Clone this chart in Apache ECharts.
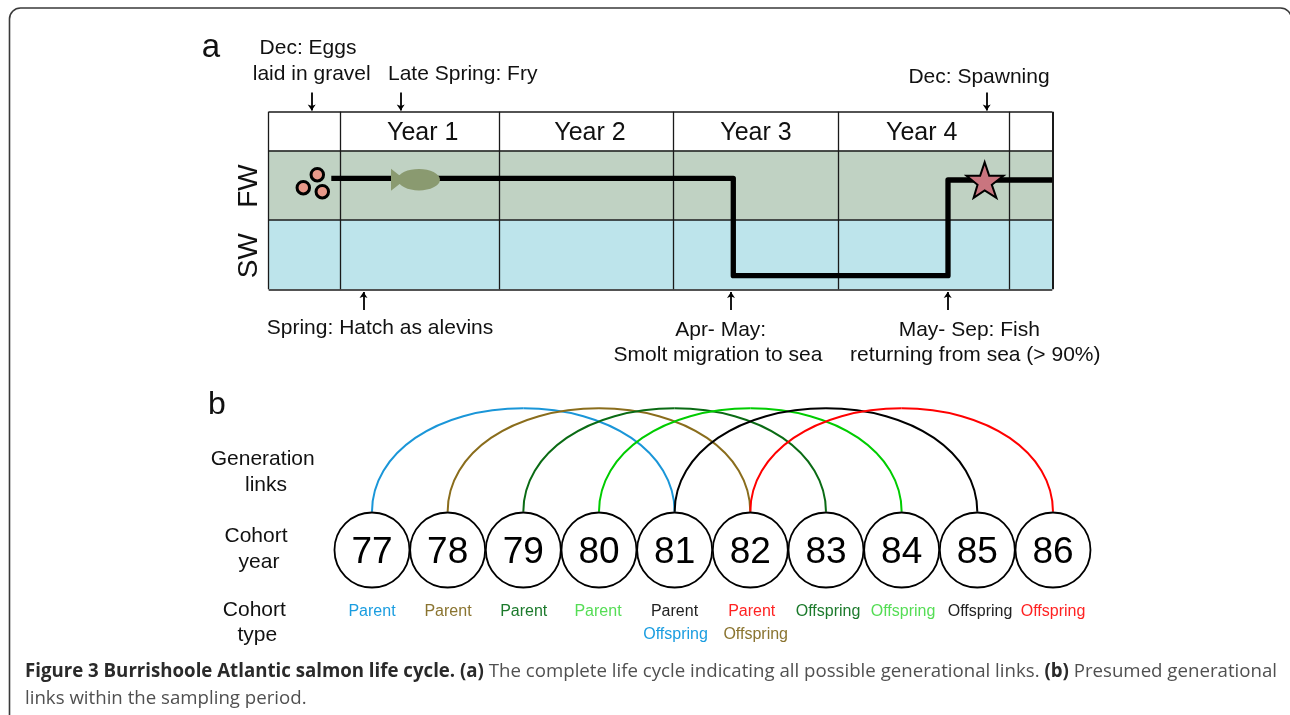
<!DOCTYPE html>
<html><head><meta charset="utf-8">
<style>html,body{margin:0;padding:0;background:#fff}#c{width:1290px;height:715px}</style>
<script src="https://cdn.jsdelivr.net/npm/echarts@6/dist/echarts.min.js"></script>
</head><body><div id="c"></div>
<script>
// ---- data ----
const yearEdges = [268.7, 340.7, 499.3, 673.3, 838.7, 1009.3, 1052.3];
const yearLabels = ['Year 1', 'Year 2', 'Year 3', 'Year 4'];
const rowEdges = [111.7, 150.4, 219.7, 289.3];
const rowLabels = ['FW', 'SW'];
const lifePath = [[331.3, 178.3], [733.3, 178.3], [733.3, 275.7], [948, 275.7], [948, 180], [1052.3, 180]];
const eggs = [[303.3, 187.7], [317.3, 174.7], [322.3, 191.7]];
const fry = [[415.5, 179.7]];
const spawner = [[985, 180]];
const downArrowsX = [311.7, 400.7, 986.7];
const upArrowsX = [363.5, 731, 947.7];
const cohortYears = [77, 78, 79, 80, 81, 82, 83, 84, 85, 86];
const generationLinks = [[77, 81], [78, 82], [79, 83], [80, 84], [81, 85], [82, 86]];
const linkColors = ['#1a96d8', '#8a6d1c', '#0a6b14', '#00cc00', '#000000', '#ff0000'];
const cohortTypeRow1 = ['Parent', 'Parent', 'Parent', 'Parent', 'Parent', 'Parent', 'Offspring', 'Offspring', 'Offspring', 'Offspring'];
const cohortTypeRow2 = ['', '', '', '', 'Offspring', 'Offspring', '', '', '', ''];

// ---- layout / styles ----
const FONT = '"Liberation Sans", Arial, sans-serif';
const CAP = '"Open Sans", "Noto Sans", sans-serif';
const ROW1C = ['#1a9de0', '#8a7430', '#1c7a2c', '#55dd55', '#222222', '#ff2222', '#1c7a2c', '#55dd55', '#222222', '#ff2222'];
const ROW2C = ['', '', '', '', '#1a9de0', '#8a7430', '', '', '', ''];
const ROW1X = [372, 448, 523.7, 598, 674.5, 751.7, 828, 903, 980, 1053];
const ROW2X = [0, 0, 0, 0, 675.5, 755.7, 0, 0, 0, 0];
const YEAR_X = [422.7, 590, 756, 921.7];
const FW_SW_Y = [186, 255.7];
const BAND_COL = ['#c0d2c3', '#bde4eb'];
const GRID_COL = '#1a1a1a';
const ARC_BASE = 511.7, ARC_TOP = 408.3, ARROW_TOP = [92.5, 110.5], ARROW_BOT = [310, 292];
const STAR = 'path://M1004 335L1018 377L1062 377L1026 405L1040 445L1004 422L970 445L982 405L948 377L990 377Z';
const FISH = 'path://M0 0L14 11L0 22ZM7 11C7 4 17 0.3 28 0.3C39 0.3 49 5 49 11C49 17 39 21.7 28 21.7C17 21.7 7 17 7 11Z';

function txt(text, x, y, size, fill, extra) {
  return Object.assign({ type: 'text', x: x, y: y + 1.5, silent: true, z: 50,
    style: { text: text, x: 0, y: 0, font: size + 'px ' + FONT, fill: fill || '#111', textAlign: 'center', textVerticalAlign: 'middle' } }, extra || {});
}
const texts = [
  txt('a', 211, 46.5, 33), txt('b', 217, 403.5, 32),
  txt('Dec: Eggs', 308, 46.7, 21), txt('laid in gravel', 311.7, 72.7, 21),
  txt('Late Spring: Fry', 462.7, 72.7, 21), txt('Dec: Spawning', 979, 76, 21),
  txt('Spring: Hatch as alevins', 380, 327, 21),
  txt('Apr- May:', 720.7, 328.3, 21), txt('Smolt migration to sea', 718, 354, 21),
  txt('May- Sep: Fish', 969.3, 328.3, 21), txt('returning from sea (> 90%)', 975.3, 354, 21),
  txt('Generation', 262.7, 458, 21), txt('links', 266, 484, 21),
  txt('Cohort', 256, 535, 21), txt('year', 259, 561, 21),
  txt('Cohort', 254.3, 609, 21), txt('type', 257.3, 634, 21)
];
yearLabels.forEach((t, i) => texts.push(txt(t, YEAR_X[i], 132, 25)));
rowLabels.forEach((t, i) => texts.push(txt(t, 249.5, FW_SW_Y[i] - 1.5, 28, '#111', { rotation: Math.PI / 2 })));
cohortTypeRow1.forEach((t, i) => texts.push(txt(t, ROW1X[i], 610, 16, ROW1C[i])));
cohortTypeRow2.forEach((t, i) => { if (t) texts.push(txt(t, ROW2X[i], 633, 16, ROW2C[i])); });

const capRich = { b: { font: 'bold 18.66px ' + CAP, fill: '#2a2a2a' }, n: { font: '18.66px ' + CAP, fill: '#505050' } };
function cap(text, y) {
  return { type: 'text', x: 25, y: y, silent: true, z: 50,
    style: { text: text, x: 0, y: 0, rich: capRich, textAlign: 'left', textVerticalAlign: 'middle' } };
}
const frame = { type: 'rect', z: -1, silent: true, shape: { x: 9.5, y: 8, width: 1282, height: 800, r: 11 },
  style: { fill: '#fff', stroke: '#3a3a3a', lineWidth: 1.6 } };

const gridLines = [];
yearEdges.forEach((x, i) => gridLines.push({ coords: [[x, rowEdges[0]], [x, rowEdges[3]]], lineStyle: { width: i === yearEdges.length - 1 ? 2 : 1.3 } }));
rowEdges.forEach((y) => gridLines.push({ coords: [[yearEdges[0], y], [yearEdges[6], y]] }));

const arrows = [];
downArrowsX.forEach((x) => arrows.push({ coords: [[x, ARROW_TOP[0]], [x, ARROW_TOP[1]]] }));
upArrowsX.forEach((x) => arrows.push({ coords: [[x, ARROW_BOT[0]], [x, ARROW_BOT[1]]] }));

const chart = echarts.init(document.getElementById('c'), null, { renderer: 'canvas' });
chart.setOption({
  animation: false,
  backgroundColor: '#fff',
  grid: { left: 0, right: 0, top: 0, bottom: 0 },
  xAxis: [
    { type: 'value', min: 0, max: 1290, show: false },
    { type: 'value', min: 72.0840, max: 72.0840 + 1290 / 75.667, show: false }
  ],
  yAxis: { type: 'value', min: 0, max: 715, inverse: true, show: false },
  graphic: [frame].concat(texts, [
    cap('{b|Figure 3 Burrishoole Atlantic salmon life cycle. (a) }{n|The complete life cycle indicating all possible generational links. }{b|(b) }{n|Presumed generational}', 672),
    cap('{n|links within the sampling period.}', 699)
  ]),
  series: [
    { type: 'custom', z: 1, coordinateSystem: 'cartesian2d', silent: true,
      data: [0, 1].map((i) => [yearEdges[0], rowEdges[i + 1], yearEdges[6], rowEdges[i + 2]]),
      encode: { x: [0, 2], y: [1, 3] },
      renderItem: (p, api) => {
        const a = api.coord([api.value(0), api.value(1)]), b = api.coord([api.value(2), api.value(3)]);
        return { type: 'rect', shape: { x: a[0], y: a[1], width: b[0] - a[0], height: b[1] - a[1] }, style: { fill: BAND_COL[p.dataIndex] } };
      } },
    { type: 'lines', z: 2, coordinateSystem: 'cartesian2d', silent: true, polyline: false,
      lineStyle: { color: GRID_COL, width: 1.6, opacity: 1 }, data: gridLines },
    { type: 'line', z: 3, silent: true, data: lifePath, showSymbol: false, symbol: 'none',
      lineStyle: { color: '#000', width: 5.3, join: 'round', cap: 'butt' } },
    { type: 'scatter', z: 4, silent: true, data: eggs, symbol: 'circle', symbolSize: 12.5,
      itemStyle: { color: '#e8998a', opacity: 1, borderColor: '#000', borderWidth: 3 } },
    { type: 'scatter', z: 4, silent: true, data: fry, symbol: FISH, symbolSize: [49, 22],
      itemStyle: { color: '#8a9a70', opacity: 1 } },
    { type: 'scatter', z: 4, silent: true, data: spawner, symbol: STAR, symbolSize: [37, 35.5],
      itemStyle: { color: '#c9757f', opacity: 1, borderColor: '#000', borderWidth: 2 } },
    { type: 'lines', z: 4, coordinateSystem: 'cartesian2d', silent: true,
      symbol: ['none', 'arrow'], symbolSize: [6, 6],
      lineStyle: { color: '#000', width: 1.8, opacity: 1 }, data: arrows },
    { type: 'custom', z: 5, coordinateSystem: 'cartesian2d', xAxisIndex: 1, silent: true,
      data: generationLinks, encode: { x: [0, 1] },
      renderItem: (p, api) => {
        const a = api.coord([api.value(0), ARC_BASE]), b = api.coord([api.value(1), ARC_BASE]);
        const top = api.coord([api.value(0), ARC_TOP])[1], cx = (a[0] + b[0]) / 2, rx = (b[0] - a[0]) / 2, ry = a[1] - top;
        const k = 0.57, m = 0.57;
        const st = { fill: null, stroke: linkColors[p.dataIndex], lineWidth: 2 };
        return { type: 'group', children: [
          { type: 'bezierCurve', shape: { x1: a[0], y1: a[1], cpx1: a[0], cpy1: a[1] - ry * k, cpx2: cx - rx * m, cpy2: top, x2: cx, y2: top }, style: st },
          { type: 'bezierCurve', shape: { x1: cx, y1: top, cpx1: cx + rx * m, cpy1: top, cpx2: b[0], cpy2: b[1] - ry * k, x2: b[0], y2: b[1] }, style: st }
        ] };
      } },
    { type: 'scatter', z: 6, xAxisIndex: 1, silent: true,
      data: cohortYears.map((y) => [y, 550]), symbol: 'circle', symbolSize: 75,
      itemStyle: { color: '#fff', opacity: 1, borderColor: '#000', borderWidth: 1.8 },
      label: { show: true, position: 'inside', offset: [0, 2.5], formatter: (p) => String(p.value[0]), color: '#000', fontFamily: FONT, fontSize: 37 } }
  ]
});
</script></body></html>
